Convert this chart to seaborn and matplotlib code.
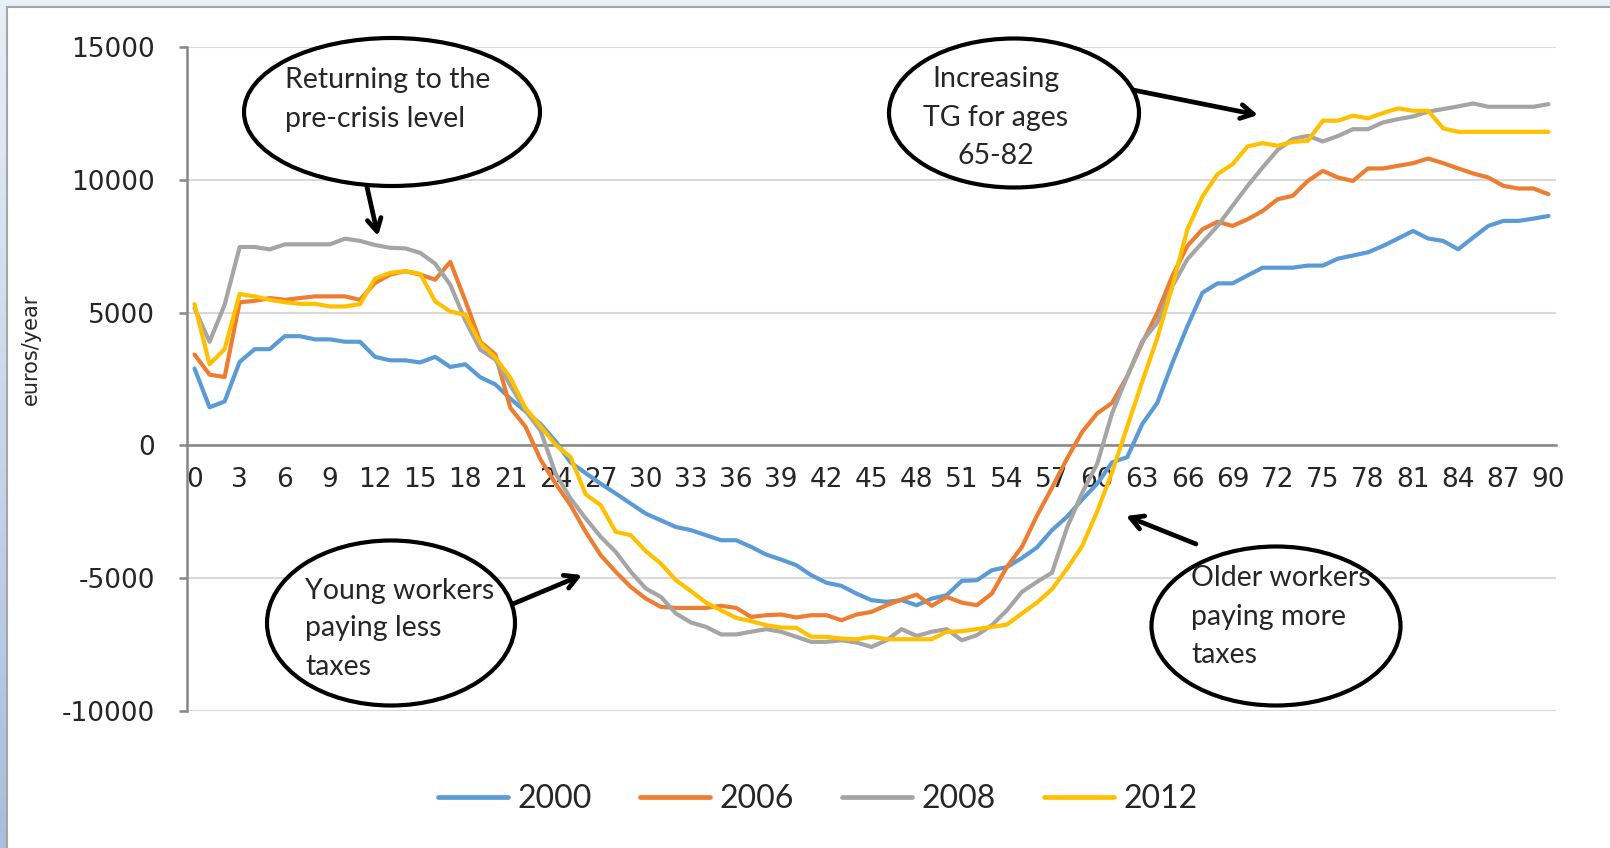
import numpy as np
import pandas as pd
import seaborn as sns
import matplotlib.pyplot as plt
from matplotlib.patches import Ellipse, Rectangle
from matplotlib.lines import Line2D
from matplotlib.colors import LinearSegmentedColormap

# --- Dados ---
idades = list(range(0, 91))

v2000 = [2890, 1430, 1650, 3140, 3620, 3620, 4110, 4110, 3990, 3990,
         3900, 3900, 3330, 3200, 3200, 3120, 3330, 2950, 3050, 2560,
         2290, 1750, 1280, 800, 150, -650, -1050, -1450, -1820, -2200,
         -2580, -2830, -3080, -3200, -3390, -3580, -3580, -3830, -4120, -4310,
         -4520, -4900, -5180, -5300, -5590, -5840, -5900, -5840, -6030, -5780,
         -5650, -5110, -5090, -4710, -4590, -4250, -3850, -3200, -2690, -2050,
         -1450, -640, -450, 800, 1600, 3100, 4490, 5750, 6100, 6100,
         6400, 6690, 6690, 6690, 6770, 6770, 7030, 7150, 7270, 7510,
         7790, 8075, 7790, 7700, 7385, 7830, 8265, 8455, 8455, 8540,
         8640]

v2006 = [3420, 2660, 2570, 5390, 5440, 5545, 5480, 5545, 5610, 5610,
         5610, 5480, 6115, 6430, 6560, 6430, 6240, 6910, 5450, 3900,
         3420, 1400, 700, -540, -1445, -2260, -3265, -4145, -4770, -5340,
         -5780, -6090, -6130, -6130, -6130, -6050, -6130, -6470, -6405, -6380,
         -6490, -6405, -6405, -6595, -6380, -6280, -6030, -5815, -5630, -6050,
         -5715, -5930, -6030, -5590, -4585, -3830, -2650, -1600, -500, 500,
         1200, 1600, 2600, 3860, 4990, 6380, 7510, 8140, 8420, 8265,
         8515, 8830, 9270, 9400, 9960, 10340, 10090, 9960, 10430, 10430,
         10530, 10630, 10805, 10630, 10430, 10240, 10090, 9775, 9675, 9675,
         9460]

v2008 = [5165, 3900, 5290, 7470, 7470, 7380, 7570, 7570, 7570, 7570,
         7785, 7700, 7545, 7440, 7420, 7250, 6840, 6050, 4700, 3600,
         3230, 2250, 1300, 550, -1070, -2010, -2760, -3450, -4020, -4770,
         -5400, -5715, -6340, -6680, -6845, -7130, -7130, -7030, -6930, -7030,
         -7220, -7410, -7410, -7350, -7435, -7600, -7350, -6930, -7185, -7030,
         -6930, -7350, -7160, -6780, -6220, -5525, -5150, -4800, -3100, -1800,
         -700, 1220, 2600, 3925, 4620, 6000, 7010, 7640, 8265, 9020,
         9775, 10470, 11130, 11540, 11660, 11450, 11650, 11910, 11910, 12165,
         12290, 12390, 12570, 12670, 12770, 12880, 12755, 12755, 12755, 12755,
         12855]

v2012 = [5317, 3050, 3620, 5700, 5610, 5480, 5390, 5330, 5330, 5230,
         5230, 5317, 6280, 6495, 6560, 6460, 5420, 5040, 4910, 3850,
         3300, 2540, 1400, 720, 20, -450, -1850, -2260, -3265, -3390,
         -3995, -4460, -5085, -5500, -5930, -6220, -6505, -6630, -6780, -6870,
         -6880, -7220, -7220, -7285, -7310, -7220, -7310, -7310, -7310, -7310,
         -7030, -7010, -6930, -6845, -6760, -6340, -5930, -5425, -4650, -3800,
         -2500, -1000, 700, 2400, 4050, 6000, 8140, 9370, 10215, 10590,
         11260, 11385, 11285, 11435, 11470, 12230, 12230, 12420, 12320, 12520,
         12695, 12605, 12605, 11940, 11810, 11810, 11810, 11810, 11810, 11810,
         11810]

anos = ["2000", "2006", "2008", "2012"]
cores = ["#5B9BD5", "#ED7D31", "#A5A5A5", "#FFC000"]

df = pd.DataFrame({
    "idade": idades * 4,
    "valor": v2000 + v2006 + v2008 + v2012,
    "ano": sum([[a] * len(idades) for a in anos], []),
})

# --- Configurações Visuais ---
sns.set_style("white")
plt.rcParams['font.family'] = ['DejaVu Sans']
plt.rcParams['axes.unicode_minus'] = False

W, H = 1610, 848
fig = plt.figure(figsize=(W / 100, H / 100), dpi=100)

# fundo azulado em degradê (fora da moldura)
bg = fig.add_axes([0, 0, 1, 1], zorder=-10)
grad = LinearSegmentedColormap.from_list("fundo", ["#E9EFF7", "#A8BEDC"])
bg.imshow(np.linspace(0, 1, 256).reshape(-1, 1), aspect="auto", cmap=grad,
          extent=[0, 1, 1, 0])
bg.set_axis_off()

# moldura branca do gráfico
fig.add_artist(Rectangle((7 / W, -0.01), 1.02, 1 - 7 / H + 0.01, transform=fig.transFigure,
                         facecolor="white", edgecolor="#A6A6A6", linewidth=1.5, zorder=0))

ax = fig.add_axes([187 / W, 1 - 710.6 / H, (1556 - 187) / W, (710.6 - 47.2) / H], zorder=1)
ax.set_facecolor("none")

sns.lineplot(data=df, x="idade", y="valor", hue="ano", palette=cores,
             linewidth=3.0, ax=ax, legend=False, zorder=3)

ax.set_xlim(-0.5, 90.5)
ax.set_ylim(-10000, 15000)
ax.set_yticks(range(-10000, 15001, 5000))
ax.yaxis.grid(True, color="#D9D9D9", linewidth=1.5)
ax.set_axisbelow(True)

for s in ["top", "right"]:
    ax.spines[s].set_visible(False)
ax.spines["bottom"].set_position(("data", 0))
for s in ["bottom", "left"]:
    ax.spines[s].set_color("#868686")
    ax.spines[s].set_linewidth(1.8)
    ax.spines[s].set_zorder(2)

ax.set_xticks(range(0, 91, 3))
ax.set_xticks(np.arange(-0.5, 91, 1), minor=True)
ax.tick_params(axis="x", which="major", length=0, pad=16, labelsize=19)
ax.tick_params(axis="x", which="minor", length=6, width=1.8, color="#868686", direction="out")
ax.tick_params(axis="y", which="major", length=6, width=1.8, color="#868686",
               direction="out", pad=17, labelsize=19, left=True)

ax.set_xlabel("")
ax.set_ylabel("euros/year", fontsize=15)
ax.yaxis.set_label_coords(-0.1066, 0.545)


# --- Balões de anotação ---
def px(x, y):
    return (x / W, 1 - y / H)

fonte_balao = ['Lato', 'DejaVu Sans']

baloes = [
    ((392, 112), 296, 148),
    ((1014, 113), 250, 149),
    ((391, 623), 248, 165),
    ((1276, 626), 249, 159),
]
for (cx, cy), w, h in baloes:
    fig.add_artist(Ellipse(px(cx, cy), w / W, h / H, transform=fig.transFigure,
                           facecolor="white", edgecolor="black", linewidth=3, zorder=5))

textos = [
    (285, [80, 119], ["Returning to the", "pre-crisis level"], "left"),
    (996, [79, 118, 156], ["Increasing", "TG for ages", "65-82"], "center"),
    (305, [591, 628, 667], ["Young workers", "paying less", "taxes"], "left"),
    (1191, [578, 617, 655], ["Older workers", "paying more", "taxes"], "left"),
]
for x0, ys, linhas, alin in textos:
    for y0, t in zip(ys, linhas):
        fig.text(*px(x0, y0), t, ha=alin, va="center", fontsize=20.5,
                 family=fonte_balao, zorder=6)

setas = [
    ((367, 187), (378, 236)),
    ((1133, 90), (1258, 115)),
    ((508, 606), (582, 575)),
    ((1196, 544), (1126, 516)),
]
for ini, fim in setas:
    ax.annotate("", xy=px(*fim), xytext=px(*ini), xycoords="figure fraction",
                textcoords="figure fraction",
                arrowprops=dict(arrowstyle="->,head_length=0.9,head_width=0.5",
                                color="black", linewidth=3.4, shrinkA=0, shrinkB=0),
                zorder=6, annotation_clip=False)

# --- Legenda ---
handles = [Line2D([0], [0], color=c, linewidth=3.4, solid_capstyle="round") for c in cores]
fig.legend(handles, anos, loc="center", bbox_to_anchor=(0.508, 1 - 799 / H), ncol=4,
           frameon=False, prop={"family": fonte_balao, "size": 23},
           handlelength=2.2, handletextpad=0.3, columnspacing=1.5)

plt.savefig("out.png", dpi=100)
plt.close()
